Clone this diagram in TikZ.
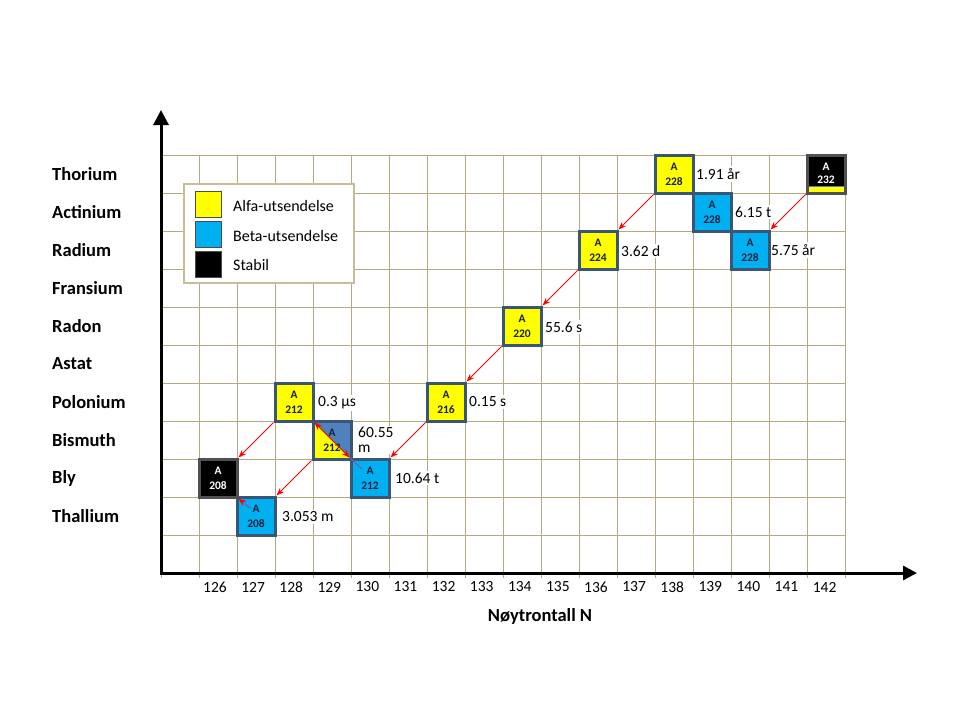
\documentclass[tikz,border=0pt]{standalone}
\usepackage{fontspec}
\setmainfont{Carlito}
\usetikzlibrary{arrows.meta}
\definecolor{gridc}{HTML}{B3AA80}
\definecolor{legc}{HTML}{C6BE98}
\definecolor{alfac}{HTML}{FFFF00}
\definecolor{betac}{HTML}{00B0F0}
\definecolor{bisc}{HTML}{4F81BD}
\definecolor{boxedge}{HTML}{3A5677}
\definecolor{stabedge}{HTML}{505050}
\definecolor{boxtxt}{HTML}{16223C}
\definecolor{betaln}{HTML}{7A5AA8}
\tikzset{
  gridline/.style={draw=gridc, line width=1pt},
  axisline/.style={line width=3pt, black},
  isobox/.style={draw=boxedge, line width=3pt, minimum width=38pt, minimum height=38pt,
     inner sep=0pt, align=center, text=boxtxt, font=\bfseries\fontsize{11.5}{15}\selectfont},
  alfabox/.style={isobox, fill=alfac},
  betabox/.style={isobox, fill=betac},
  stabbox/.style={isobox, fill=black, draw=stabedge, text=white},
  elem/.style={anchor=west, inner sep=0pt, font=\bfseries\fontsize{18.5}{20}\selectfont},
  ticklab/.style={inner sep=0pt, font=\fontsize{15.5}{17}\selectfont},
  halflife/.style={anchor=west, fill=white, inner sep=2pt, align=left, font=\fontsize{15.5}{14.5}\selectfont},
  legtext/.style={anchor=west, inner sep=0pt, font=\fontsize{16}{18}\selectfont},
  swatch/.style={draw=black!70, line width=0.6pt, minimum width=26pt, minimum height=26pt, inner sep=0pt},
  alfarrow/.style={draw=red, line width=0.8pt, -{Stealth[length=8pt,width=6pt]}},
}
\begin{document}
\begin{tikzpicture}[x=1pt,y=-1pt]
\useasboundingbox (0,0) rectangle (960,720);
\fill[white] (0,0) rectangle (960,720);

% grid
\foreach \i in {0,...,18} \draw[gridline] (161+38*\i,155) -- (161+38*\i,578);
\foreach \j in {0,...,10} \draw[gridline] (161,155+38*\j) -- (845,155+38*\j);

% axes
\coordinate (origin) at (161,573);
\coordinate (ytop) at (161,110);
\coordinate (xend) at (917,573);
\draw[axisline, -{Triangle[length=15pt,width=15pt]}] ([yshift=-1.5pt]origin) -- (ytop);
\draw[axisline, -{Triangle[length=14pt,width=14pt]}] ([xshift=-1.5pt]origin) -- (xend);

% legend
\node[draw=legc, line width=2.5pt, fill=white, minimum width=170pt, minimum height=99pt, inner sep=0pt] (legend) at (269,233.5) {};
\node[swatch, fill=alfac] (swa) at (208,204) {};
\node[swatch, fill=betac] (swb) at (208,234) {};
\node[swatch, fill=black] (sws) at (208,264) {};
\node[legtext] (lega) at (233,206) {Alfa-utsendelse};
\node[legtext] (legb) at (233,236) {Beta-utsendelse};
\node[legtext] (legs) at (233,265) {Stabil};

% element labels
\node[elem] (thorium) at (52,174) {Thorium};
\node[elem] (actinium) at (52,212) {Actinium};
\node[elem] (radium) at (52,250) {Radium};
\node[elem] (fransium) at (52,288) {Fransium};
\node[elem] (radon) at (52,326) {Radon};
\node[elem] (astat) at (52,364) {Astat};
\node[elem] (polonium) at (52,402) {Polonium};
\node[elem] (bismuth) at (52,440) {Bismuth};
\node[elem] (bly) at (52,478) {Bly};
\node[elem] (thallium) at (52,516) {Thallium};

% tick labels
\foreach \n [count=\i from 0] in {126,...,142}
  \node[ticklab] (n\n) at (215+38.1*\i,587) {\n};
\node[font=\bfseries\fontsize{18.5}{20}\selectfont, inner sep=0pt] (xtitle) at (540,616) {Nøytrontall N};

% half-life labels
\node[halflife] (t228) at (694,174) {1.91 år};
\node[halflife] (tac228) at (733,212) {6.15 t};
\node[halflife] (tra228) at (769,250) {5.75 år};
\node[halflife] (tra224) at (619,251) {3.62 d};
\node[halflife] (trn220) at (543,327) {55.6 s};
\node[halflife] (tpo216) at (467,402) {0.15 s};
\node[halflife] (tpo212) at (316,403) {0.3 µs};
\node[halflife] (tbi212) at (356,440) {60.55\\m};
\node[halflife] (tpb212) at (393,478) {10.64 t};
\node[halflife] (ttl208) at (280,517) {3.053 m};

% isotope boxes
\node[alfabox] (th228) at (674,174) {A\\228};
\node[betabox] (ac228) at (712,212) {A\\228};
\node[betabox] (ra228) at (750,250) {A\\228};
\node[stabbox, path picture={
   \fill[alfac] ([yshift=1pt]path picture bounding box.south west) rectangle ([yshift=6.5pt]path picture bounding box.south east);
   \draw[bisc, line width=0.8pt] ([yshift=7pt]path picture bounding box.south west) -- ([yshift=7pt]path picture bounding box.south east);
 }] (th232) at (826,174) {\raisebox{3pt}{\begin{tabular}{@{}c@{}}A\\[-2pt]232\end{tabular}}};
\node[alfabox] (ra224) at (598,250) {A\\224};
\node[alfabox] (rn220) at (522,326) {A\\220};
\node[alfabox] (po216) at (446,402) {A\\216};
\node[betabox] (pb212) at (370,478) {A\\212};
\node[isobox, path picture={
   \fill[alfac] (path picture bounding box.north west) -- (path picture bounding box.south west) -- (path picture bounding box.south east) -- cycle;
   \fill[bisc] (path picture bounding box.north west) -- (path picture bounding box.north east) -- (path picture bounding box.south east) -- cycle;
 }] (bi212) at (332,440) {A\\212};
\node[alfabox] (po212) at (294,402) {A\\212};
\node[betabox] (tl208) at (256,516) {A\\208};
\node[stabbox] (pb208) at (218,478) {A\\208};

% alpha decay arrows
\draw[alfarrow] (th228.south west) -- (ra224.north east);
\draw[alfarrow] (th232.south west) -- (ra228.north east);
\draw[alfarrow] (ra224.south west) -- (rn220.north east);
\draw[alfarrow] (rn220.south west) -- (po216.north east);
\draw[alfarrow] (po216.south west) -- (pb212.north east);
\draw[alfarrow] (po212.south west) -- (pb208.north east);
\draw[alfarrow] (bi212.south west) -- (tl208.north east);

% beta decay arrows
\coordinate (pbin) at (362,469);
\coordinate (tlin) at (250,508);
\draw[betaln, line width=1pt] (pb212.north west) -- (pbin);
\draw[red, line width=0.8pt, {Stealth[length=8pt,width=6pt]}-{Stealth[length=8pt,width=6pt]}] (po212.south east) -- (pb212.north west);
\draw[betaln, line width=1pt, -{Stealth[length=8pt,width=6pt,red]}] (tlin) -- (pb208.south east);
\end{tikzpicture}
\end{document}
